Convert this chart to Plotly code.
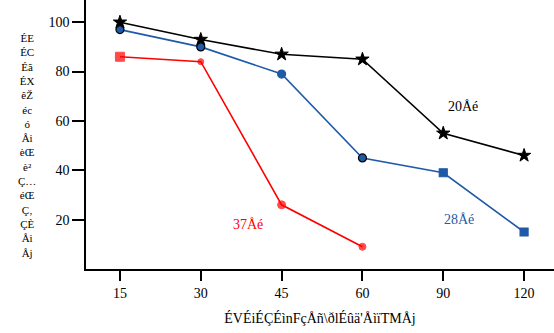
import plotly.graph_objects as go

x_labels = ["15", "30", "45", "60", "90", "120"]
x_idx = [0, 1, 2, 3, 4, 5]

s20 = [100, 93, 87, 85, 55, 46]
s28 = [97, 90, 79, 45, 39, 15]
s37_idx = [0, 1, 2, 3]
s37 = [86, 84, 26, 9]

name20 = "20Åé"
name28 = "28Åé"
name37 = "37Åé"

y_title_lines = ["ÉE", "ÉC", "Éã", "ÉX", "êŽ", "éc", "ó", "Åi", "èŒ", "è²", "Ç…", "éŒ", "Ç‚", "ÇÈ", "Åi", "Åj"]
x_title = "ÉVÉiÉÇÉìnFçÅñ\\ðlÉûä'ÅìïTMÅj"

FONT = "Liberation Serif"
BLUE = "#1f5aa8"
RED = "#ff0000"

W, H = 554, 333
ML, MB, MT = 86, 64, 0
PH = H - MB - MT
PW = W - ML

fig = go.Figure()

fig.add_trace(go.Scatter(
    x=x_idx, y=s28, mode="lines+markers",
    line=dict(color=BLUE, width=1.6),
    marker=dict(symbol=["circle", "circle", "circle", "circle", "square", "square"],
                size=8, color=BLUE,
                line=dict(color=["black", "black", BLUE, "black", BLUE, BLUE], width=1.2)),
    showlegend=False))

fig.add_trace(go.Scatter(
    x=x_idx, y=s20, mode="lines+markers",
    line=dict(color="black", width=1.6),
    marker=dict(symbol="star", size=10, color="black", line=dict(color="black", width=1)),
    showlegend=False))

fig.add_trace(go.Scatter(
    x=s37_idx, y=s37, mode="lines+markers",
    line=dict(color=RED, width=1.6),
    marker=dict(symbol=["square", "circle", "circle", "circle"], size=[9, 6, 8, 7], color=RED,
                line=dict(color=RED, width=1)),
    showlegend=False))

fig.add_annotation(x=4.25, y=66, text=name20, showarrow=False,
                   font=dict(family=FONT, size=14, color="black"))
fig.add_annotation(x=4.2, y=20, text=name28, showarrow=False,
                   font=dict(family=FONT, size=14, color=BLUE))
fig.add_annotation(x=1.58, y=18, text=name37, showarrow=False,
                   font=dict(family=FONT, size=14, color=RED))

fig.add_annotation(xref="paper", yref="paper", x=(27 - ML) / PW, y=1 - (145 - MT) / PH,
                   text="<br>".join(y_title_lines), showarrow=False,
                   xanchor="center", yanchor="middle",
                   font=dict(family=FONT, size=11, color="black"))

fig.update_layout(
    width=W, height=H,
    margin=dict(l=ML, r=0, t=MT, b=MB),
    paper_bgcolor="white", plot_bgcolor="white",
    font=dict(family=FONT, size=14, color="black"),
    xaxis=dict(range=[-0.42, 5.37], tickmode="array", tickvals=x_idx, ticktext=x_labels,
               showline=True, linecolor="black", linewidth=1.5, showgrid=False, zeroline=False,
               ticks="outside", ticklen=10, tickwidth=1.5, tickcolor="black",
               title=dict(text=x_title, font=dict(family=FONT, size=14), standoff=14)),
    yaxis=dict(range=[0, 109], tickmode="array", tickvals=[20, 40, 60, 80, 100],
               showline=True, linecolor="black", linewidth=1.5, showgrid=False, zeroline=False,
               ticks="outside", ticklen=12, tickwidth=1.5, tickcolor="black"),
)

fig.write_html("out.html")
